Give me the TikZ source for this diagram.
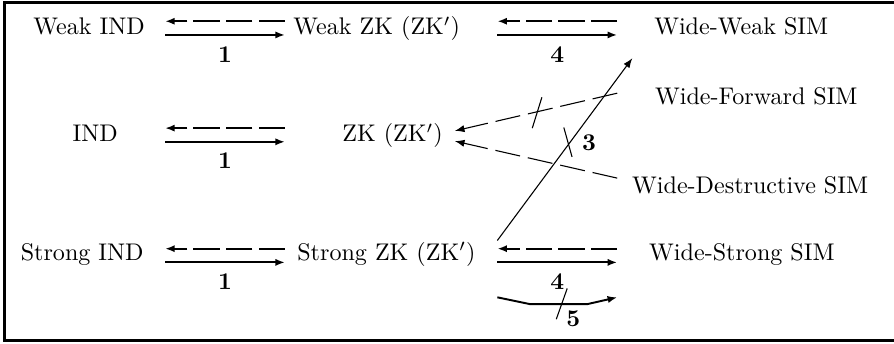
\documentclass[tikz,border=0pt]{standalone}
\usetikzlibrary{arrows.meta}

\tikzset{
  pair/.style={line width=0.8pt, -{Latex[length=4pt,width=3pt]}},
  back/.style={pair, dash pattern=on 11pt off 2.5pt},
  imp/.style={line width=0.45pt, -{Latex[length=4pt,width=3pt]}},
  sep/.style={imp, dash pattern=on 10.5pt off 3.3pt},
  cut/.style={line width=0.45pt},
  lbl/.style={font=\bfseries},
  txt/.style={anchor=base},
}

\begin{document}
\begin{tikzpicture}
  \useasboundingbox (0,0) rectangle (13.05,5.01);
  \draw[line width=1.2pt] (13.3,4.98) -- (0.066,4.98) -- (0.066,0.037) -- (13.3,0.037);

  % notions
  \node[txt] (wind) at (1.30,4.50) {Weak IND};
  \node[txt] (wzk)  at (5.50,4.50) {Weak ZK (ZK$'$)};
  \node[txt] (wws)  at (10.82,4.50) {Wide-Weak SIM};
  \node[txt] (ind)  at (1.39,2.94) {IND};
  \node[txt] (zk)   at (5.73,2.94) {ZK (ZK$'$)};
  \node[txt] (wfs)  at (11.04,3.49) {Wide-Forward SIM};
  \node[txt] (wds)  at (10.95,2.19) {Wide-Destructive SIM};
  \node[txt] (sind) at (1.20,1.21) {Strong IND};
  \node[txt] (szk)  at (5.64,1.21) {Strong ZK (ZK$'$)};
  \node[txt] (wss)  at (10.83,1.21) {Wide-Strong SIM};

  % equivalences
  \foreach \y/\n in {4.50/a, 2.94/b, 1.18/c} {
    \coordinate (\n1) at (2.41,\y);
    \coordinate (\n2) at (4.16,\y);
    \draw[pair] (\n1) -- (\n2) node[midway, below=1pt, lbl] {1};
    \draw[back] ([yshift=0.2cm]\n2) -- ([yshift=0.2cm]\n1);
  }
  \foreach \y/\n in {4.50/d, 1.18/e} {
    \coordinate (\n1) at (7.26,\y);
    \coordinate (\n2) at (9.01,\y);
    \draw[pair] (\n1) -- (\n2) node[midway, below=1pt, lbl] {4};
    \draw[back] ([yshift=0.2cm]\n2) -- ([yshift=0.2cm]\n1);
  }

  % separations
  \coordinate (s1) at (7.26,1.50);
  \coordinate (s2) at (9.23,4.16);
  \draw[imp] (s1) -- (s2);
  \draw[cut] (8.23,3.15) -- (8.35,2.72);
  \node[lbl] (n3) at (8.60,2.92) {3};

  \coordinate (f1) at (9.01,3.65);
  \coordinate (f2) at (6.64,3.10);
  \draw[sep] (f1) -- (f2);
  \draw[cut] (7.77,3.14) -- (7.91,3.59);

  \coordinate (g1) at (9.01,2.41);
  \coordinate (g2) at (6.64,2.95);
  \draw[sep] (g1) -- (g2);

  \coordinate (h1) at (7.26,0.67);
  \coordinate (h2) at (9.01,0.67);
  \draw[pair] (h1) -- (7.74,0.57) -- (8.57,0.57) -- (h2);
  \draw[cut] (8.12,0.35) -- (8.28,0.80);
  \node[lbl] (n5) at (8.37,0.36) {5};
\end{tikzpicture}
\end{document}
